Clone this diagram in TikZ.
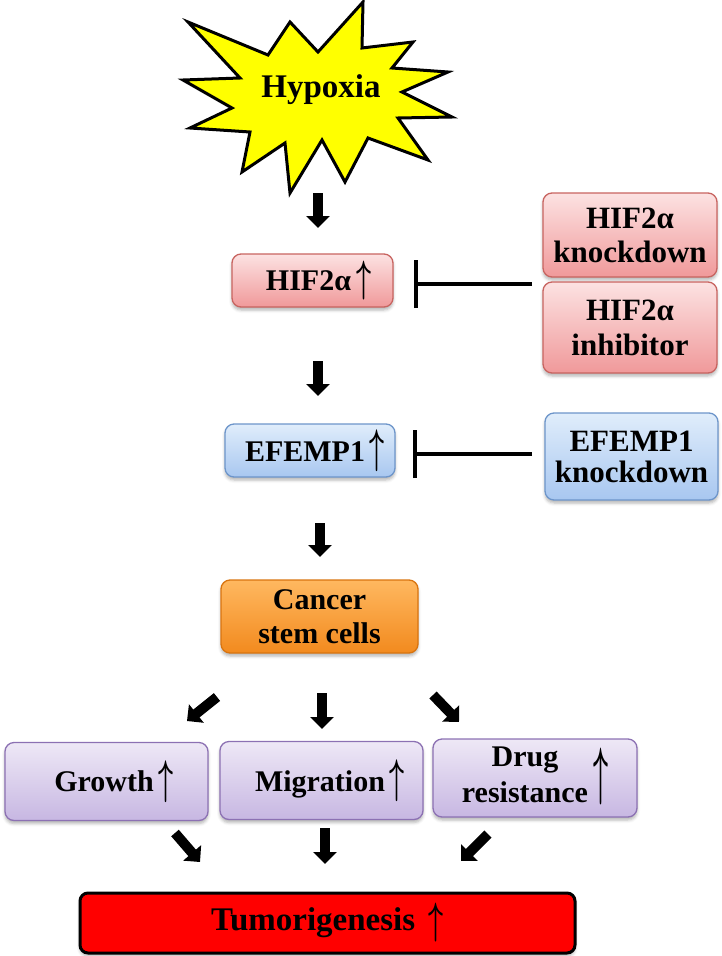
\documentclass[tikz,border=0pt]{standalone}
\usepackage{fontspec}
\usepackage{graphicx}
\setmainfont{Liberation Serif}
\usetikzlibrary{arrows.meta,shadows.blur}
\definecolor{pinktop}{HTML}{FCE2E2}
\definecolor{pinkbot}{HTML}{F0999A}
\definecolor{pinkedge}{HTML}{C86460}
\definecolor{bluetop}{HTML}{E0EDFB}
\definecolor{bluebot}{HTML}{A8C7F0}
\definecolor{blueedge}{HTML}{6D95CA}
\definecolor{orangetop}{HTML}{FFB860}
\definecolor{orangebot}{HTML}{F28A1E}
\definecolor{orangeedge}{HTML}{D9740F}
\definecolor{purpletop}{HTML}{EEE8F6}
\definecolor{purplebot}{HTML}{C7B7E2}
\definecolor{purpleedge}{HTML}{8C71B3}
\definecolor{tumorred}{HTML}{FF0000}
\definecolor{burstyellow}{HTML}{FFFF00}
% tall up-arrow: #1 total height, #2 extra shift down
\newcommand\upar[2]{\,\raisebox{-#2}{\resizebox*{15pt}{#1}{\boldmath$\uparrow$}}}
\begin{document}
\begin{tikzpicture}[x=1pt,y=-1pt,
  box/.style={rounded corners=9pt, line width=1.3pt, font=\bfseries\fontsize{30}{34}\selectfont,
    align=center, inner sep=0pt,
    blur shadow={shadow xshift=0pt,shadow yshift=-3pt,shadow blur radius=3pt,shadow opacity=30}},
  pinkbox/.style={box, draw=pinkedge, top color=pinktop, bottom color=pinkbot},
  bluebox/.style={box, draw=blueedge, top color=bluetop, bottom color=bluebot},
  orangebox/.style={box, draw=orangeedge, top color=orangetop, bottom color=orangebot},
  purplebox/.style={box, draw=purpleedge, top color=purpletop, bottom color=purplebot},
  blk/.style={line width=10pt, -{Triangle[width=23pt,length=12pt]}},
  inh/.style={line width=4pt, -{Bar[width=48pt]}},
]
\useasboundingbox (0,0) rectangle (722,956);

% starburst
\draw[line width=3pt, fill=burstyellow, line join=miter, miter limit=20]
  (188,22) -- (268,55) -- (290,22) -- (318,52) -- (363,2) -- (362,48) --
  (413,42) -- (392,68) -- (448,72) -- (402,92) -- (452,117) -- (398,118) --
  (428,160) -- (368,138) -- (345,182) -- (322,140) -- (290,193) -- (285,143) --
  (242,172) -- (250,132) -- (190,128) -- (232,108) -- (183,80) -- (240,78) -- cycle;
\node[font=\bfseries\fontsize{33}{36}\selectfont, inner sep=0pt] (hypoxia) at (321,90) {Hypoxia};

% boxes
\node[pinkbox, minimum width=161pt, minimum height=53pt] (hif) at (312.5,280.5) {\hspace*{12pt}HIF2α\upar{39pt}{1pt}};
\node[pinkbox, minimum width=174pt, minimum height=84pt, font=\bfseries\fontsize{31}{34}\selectfont] (hifkd) at (630,235) {HIF2α\\knockdown};
\node[pinkbox, minimum width=174pt, minimum height=91pt, font=\bfseries\fontsize{31}{35}\selectfont] (hifinh) at (630,327.5) {HIF2α\\inhibitor};
\node[bluebox, minimum width=170pt, minimum height=53pt] (efemp) at (310,450.5) {\hspace*{10pt}EFEMP1\upar{42pt}{1pt}};
\node[bluebox, minimum width=173pt, minimum height=87pt, font=\bfseries\fontsize{31}{31}\selectfont] (efkd) at (631.5,456.5) {EFEMP1\\knockdown};
\node[orangebox, minimum width=197pt, minimum height=73pt] (csc) at (319.5,616.5) {Cancer\\stem cells};
\node[purplebox, minimum width=203pt, minimum height=78pt] (growth) at (106.5,781.5) {\hspace*{15pt}Growth\upar{42pt}{2pt}};
\node[purplebox, minimum width=203pt, minimum height=78pt] (migr) at (321.5,780.5) {\hspace*{17pt}Migration\upar{42pt}{1pt}};
\node[purplebox, minimum width=204pt, minimum height=78pt] (drug) at (535,778) {\begin{tabular}[b]{@{}c@{}}Drug\\[2pt]resistance\end{tabular}\upar{57pt}{-10pt}};
\node[box, draw=black, line width=3pt, fill=tumorred, rounded corners=8pt, minimum width=495pt, minimum height=60pt,
  font=\bfseries\fontsize{33}{36}\selectfont] (tumor) at (327.5,923) {Tumorigenesis \upar{39pt}{3pt}};

% block arrows
\coordinate (a1s) at (318,193); \coordinate (a1e) at (318,228);
\coordinate (a2s) at (318,361); \coordinate (a2e) at (318,396);
\coordinate (a3s) at (320,523); \coordinate (a3e) at (320,557);
\coordinate (a4s) at (217,697); \coordinate (a4e) at (187,721);
\coordinate (a5s) at (322,693); \coordinate (a5e) at (322,729);
\coordinate (a6s) at (433,695); \coordinate (a6e) at (459,722);
\coordinate (a7s) at (175,833); \coordinate (a7e) at (200,862);
\coordinate (a8s) at (325,828); \coordinate (a8e) at (325,864);
\coordinate (a9s) at (488,834); \coordinate (a9e) at (461,861);
\foreach \i in {1,...,9} { \draw[blk] (a\i s) -- (a\i e); }

% inhibition
\coordinate (hifsrc) at (532,284);
\coordinate (efsrc) at (532,454);
\draw[inh, shorten >=20pt] (hifsrc) -- (hif.east |- hifsrc);
\draw[inh, shorten >=17pt] (efsrc) -- (efemp.east |- efsrc);
\end{tikzpicture}
\end{document}
